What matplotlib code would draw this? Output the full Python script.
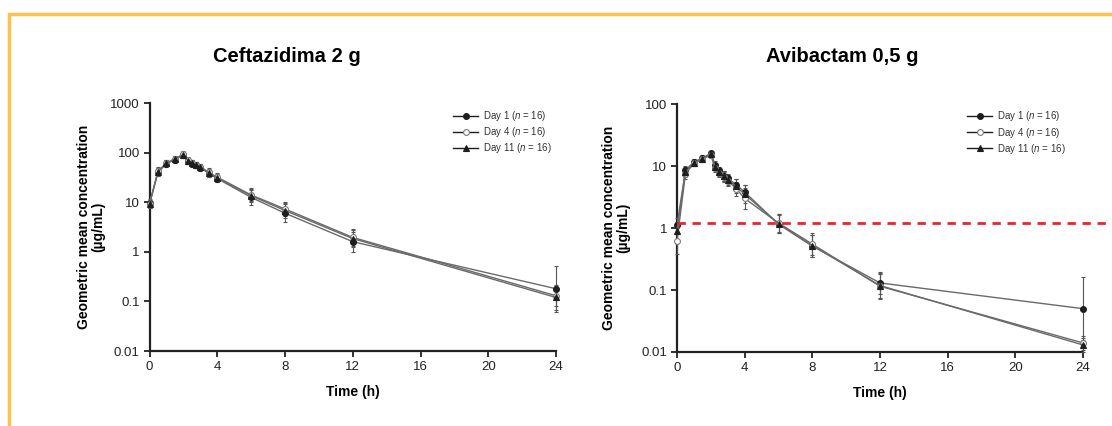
import numpy as np
import matplotlib.pyplot as plt
from matplotlib.lines import Line2D

plt.rcParams['font.family'] = ['Liberation Sans', 'DejaVu Sans']
plt.rcParams['mathtext.fontset'] = 'custom'
plt.rcParams['mathtext.it'] = 'Liberation Sans:italic'
plt.rcParams['mathtext.rm'] = 'Liberation Sans'

# sampling times (h)
time = [0, 0.5, 1, 1.5, 2, 2.25, 2.5, 2.75, 3, 3.5, 4, 6, 8, 12, 24]

# ceftazidime 2 g, geometric mean concentration (ug/mL)
caz_day1 = [9.5, 40, 60, 72, 90, 68, 60, 55, 50, 38, 30, 12.5, 6.0, 1.6, 0.18]
caz_day4 = [9.0, 42, 62, 75, 92, 70, 62, 57, 52, 40, 32, 14.0, 7.3, 1.95, 0.13]
caz_day11 = [9.2, 41, 61, 74, 91, 69, 61, 56, 51, 39, 31, 13.5, 6.8, 1.85, 0.12]
caz_gsd1 = [1.2, 1.2, 1.15, 1.15, 1.15, 1.15, 1.15, 1.15, 1.15, 1.2, 1.2, 1.4, 1.5, 1.6, 2.9]
caz_gsd4 = [1.2, 1.2, 1.15, 1.15, 1.15, 1.15, 1.15, 1.15, 1.15, 1.2, 1.2, 1.35, 1.4, 1.5, 1.6]
caz_gsd11 = [1.2, 1.2, 1.15, 1.15, 1.15, 1.15, 1.15, 1.15, 1.15, 1.2, 1.2, 1.35, 1.4, 1.5, 1.8]

# avibactam 0.5 g
avi_day1 = [1.1, 8.6, 11.6, 13.5, 16, 10.5, 8.5, 7.0, 6.3, 5.0, 3.8, 1.15, 0.51, 0.13, 0.05]
avi_day4 = [0.62, 7.5, 11.0, 13.0, 15, 9.3, 7.7, 6.6, 5.8, 4.3, 3.0, 1.2, 0.55, 0.115, 0.014]
avi_day11 = [0.9, 8.0, 11.2, 13.2, 15.5, 9.8, 8.0, 6.8, 6.0, 4.7, 3.5, 1.18, 0.52, 0.118, 0.013]
avi_gsd1 = [1.3, 1.15, 1.1, 1.1, 1.1, 1.15, 1.15, 1.2, 1.2, 1.25, 1.3, 1.4, 1.5, 1.5, 3.2]
avi_gsd4 = [1.6, 1.2, 1.1, 1.1, 1.1, 1.15, 1.15, 1.2, 1.2, 1.3, 1.5, 1.4, 1.5, 1.6, 1.3]
avi_gsd11 = [1.4, 1.2, 1.1, 1.1, 1.1, 1.15, 1.15, 1.2, 1.2, 1.3, 1.4, 1.4, 1.5, 1.6, 1.3]

mic_line = 1.2
labels = [r'Day 1 ($\it{n}$ = 16)', r'Day 4 ($\it{n}$ = 16)', r'Day 11 ($\it{n}$ = 16)']
titles = ['Ceftazidima 2 g', 'Avibactam 0,5 g']

dark = '#1e1e1e'
linec = '#6a6a6a'
styles = [dict(marker='o', mfc=dark, mec=dark),
          dict(marker='o', mfc='white', mec='#7a7a7a'),
          dict(marker='^', mfc=dark, mec=dark)]


def draw(ax, series, gsds, ylim, yticks, yticklabels, label_x, leg_x, leg_y):
    handles = []
    for y, g, st in zip(series, gsds, styles):
        y = np.array(y)
        g = np.array(g)
        err = [y - y / g, y * g - y]
        cont = ax.errorbar(time, y, yerr=err, color=linec, ecolor='#555555', lw=1.0,
                           elinewidth=0.8, capsize=1.5, capthick=0.8, ms=4.2,
                           mew=0.8, zorder=3, **st)
        for art in cont.get_children():
            art.set_clip_on(False)
        handles.append(Line2D([], [], color=dark, lw=1.0, ms=4.2, mew=0.8, **st))
    ax.set_yscale('log')
    ax.set_ylim(*ylim)
    ax.set_xlim(0, 24)
    ax.set_yticks(yticks)
    ax.set_yticklabels(yticklabels)
    ax.minorticks_off()
    ax.set_xticks([0, 4, 8, 12, 16, 20, 24])
    for s in ['top', 'right']:
        ax.spines[s].set_visible(False)
    for s in ['left', 'bottom']:
        ax.spines[s].set_linewidth(1.6)
        ax.spines[s].set_color('#222222')
    ax.tick_params(direction='out', length=4, width=1.3, color='#222222',
                   labelsize=9.5, labelcolor='#222222', pad=3)
    ax.set_xlabel('Time (h)', fontsize=10, fontweight='bold', labelpad=9)
    ax.set_ylabel('Geometric mean concentration\n(µg/mL)', fontsize=10,
                  fontweight='bold', linespacing=1.0)
    ax.yaxis.set_label_coords(label_x, 0.5)
    leg = ax.legend(handles, labels, loc='upper left', bbox_to_anchor=(leg_x, leg_y),
                    frameon=False, fontsize=7, handlelength=2.6, labelspacing=0.22,
                    handletextpad=0.5, borderpad=0, borderaxespad=0)
    for t in leg.get_texts():
        t.set_color('#333333')


fig = plt.figure(figsize=(11.12, 4.26), dpi=100)
ax1 = fig.add_axes([149.5 / 1112, 1 - 351 / 426, (556 - 149.5) / 1112, (351 - 103) / 426])
ax2 = fig.add_axes([677 / 1112, 1 - 352 / 426, (1083 - 677) / 1112, (352 - 104) / 426])

draw(ax1, [caz_day1, caz_day4, caz_day11], [caz_gsd1, caz_gsd4, caz_gsd11],
     (0.01, 1000), [0.01, 0.1, 1, 10, 100, 1000], ['0.01', '0.1', '1', '10', '100', '1000'],
     -0.11, 0.747, 0.975)
draw(ax2, [avi_day1, avi_day4, avi_day11], [avi_gsd1, avi_gsd4, avi_gsd11],
     (0.01, 100), [0.01, 0.1, 1, 10, 100], ['0.01', '0.1', '1', '10', '100'],
     -0.115, 0.714, 0.978)

ax2.axhline(mic_line, xmin=0, xmax=(1106 - 677) / (1083 - 677), color='#e8262c',
            lw=2.0, ls=(0, (3, 2.4)), clip_on=False, zorder=5)

fig.text(287 / 1112, 1 - 57 / 426, titles[0], ha='center', va='center',
         fontsize=14.5, fontweight='bold')
fig.text(842 / 1112, 1 - 57 / 426, titles[1], ha='center', va='center',
         fontsize=14.5, fontweight='bold')

# orange frame
border = '#fcc24d'
fig.add_artist(Line2D([9 / 1112, 9 / 1112, 1], [0, 1 - 14 / 426, 1 - 14 / 426],
                      transform=fig.transFigure, color=border, lw=2.5,
                      solid_joinstyle='miter'))

fig.savefig('out.png', dpi=100)
